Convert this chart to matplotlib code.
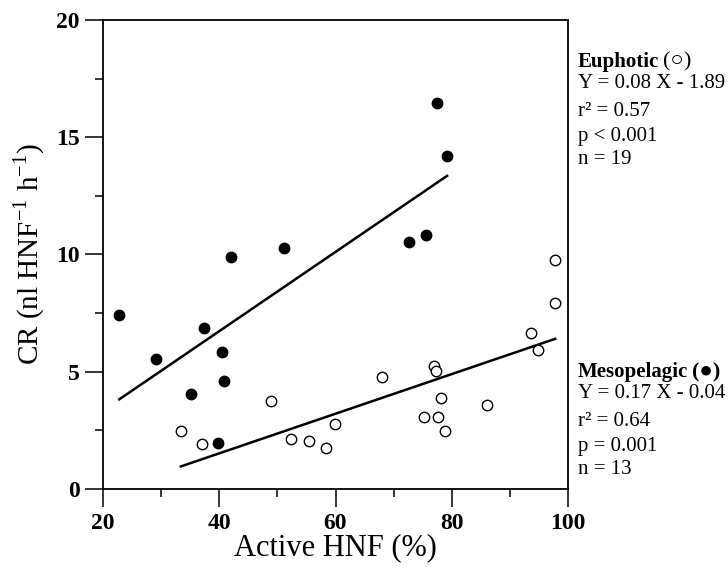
import matplotlib
matplotlib.use('Agg')
import numpy as np
import matplotlib.pyplot as plt
from matplotlib.ticker import MultipleLocator

# Euphotic (open circles)
eu_x = [33.4, 37.0, 48.9, 52.3, 55.4, 58.3, 59.9, 68.0, 75.3, 76.9,
        77.3, 77.6, 78.2, 78.9, 86.1, 93.6, 94.9, 97.8, 97.8]
eu_y = [2.47, 1.92, 3.77, 2.12, 2.05, 1.74, 2.78, 4.78, 3.06, 5.26,
        5.05, 3.06, 3.87, 2.47, 3.60, 6.64, 5.91, 7.92, 9.77]

# Mesopelagic (filled circles)
me_x = [22.8, 29.1, 35.1, 37.4, 39.7, 40.5, 40.9, 42.1, 51.1, 72.7,
        75.5, 77.4, 79.2]
me_y = [7.41, 5.53, 4.05, 6.85, 1.97, 5.86, 4.61, 9.89, 10.26, 10.52,
        10.82, 16.47, 14.21]

# regression lines as drawn (slope, intercept)
eu_fit = [0.0845, -1.86]
me_fit = [0.169, -0.03]

eu_stats = ['Y = 0.08 X - 1.89', 'r² = 0.57', 'p < 0.001', 'n = 19']
me_stats = ['Y = 0.17 X - 0.04', 'r² = 0.64', 'p = 0.001', 'n = 13']

plt.rcParams['font.family'] = ['Liberation Serif', 'DejaVu Sans']
plt.rcParams['mathtext.fontset'] = 'custom'
plt.rcParams['mathtext.rm'] = 'Liberation Serif'

fig = plt.figure(figsize=(7.28, 5.68), dpi=100)
ax = fig.add_axes([103/728, 1 - 489/568, 465/728, 469/568])

ax.plot(me_x, me_y, 'o', color='black', markersize=7.5, zorder=3)
ax.plot(eu_x, eu_y, 'o', markerfacecolor='white', markeredgecolor='black',
        markeredgewidth=1.0, markersize=7.5, zorder=3)

lx = np.array([min(me_x), max(me_x)])
ax.plot(lx, me_fit[0] * lx + me_fit[1], color='black', lw=1.8)
lx = np.array([min(eu_x), max(eu_x)])
ax.plot(lx, eu_fit[0] * lx + eu_fit[1], color='black', lw=1.8)

ax.set_xlim(20, 100)
ax.set_ylim(0, 20)
ax.xaxis.set_major_locator(MultipleLocator(20))
ax.xaxis.set_minor_locator(MultipleLocator(10))
ax.yaxis.set_major_locator(MultipleLocator(5))
ax.yaxis.set_minor_locator(MultipleLocator(2.5))
ax.tick_params(which='major', direction='out', length=13, width=1.1,
               labelsize=17, pad=4)
ax.tick_params(which='minor', direction='out', length=6, width=1.1)
for lab in ax.get_xticklabels() + ax.get_yticklabels():
    lab.set_fontweight('bold')
for s in ax.spines.values():
    s.set_linewidth(1.3)

ax.set_xlabel('Active HNF (%)', fontsize=22, labelpad=0)
ax.set_ylabel(r'CR (nl HNF$^{\mathregular{-1}}$ h$^{\mathregular{-1}}$)',
              fontsize=21, labelpad=6)

# stats text on the right
tx = 578 / 728


def block(title, sym, lines, y0):
    t = fig.text(tx, y0, title, fontsize=15, fontweight='bold', va='center')
    ax.annotate(sym, xy=(1, 0.5), xycoords=t, xytext=(3, 0),
                textcoords='offset points', fontsize=16, va='center',
                fontweight='bold' if sym == '(●)' else 'normal',
                annotation_clip=False)
    steps = [21, 28, 25, 23]
    y = y0 * 568
    for s, d in zip(lines, steps):
        y -= d
        fig.text(tx, y / 568, s, fontsize=15, va='center')


block('Euphotic', '(○)', eu_stats, 1 - 62 / 568)
block('Mesopelagic', '(●)', me_stats, 1 - 372 / 568)

fig.savefig('out.png', dpi=100)
